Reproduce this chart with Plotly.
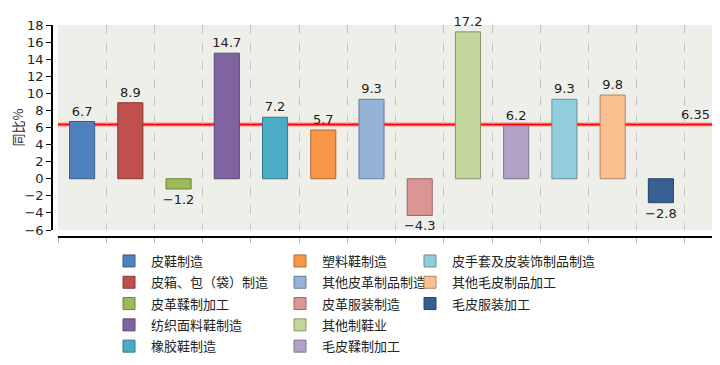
import plotly.graph_objects as go

categories = ["皮鞋制造", "皮箱、包（袋）制造", "皮革鞣制加工", "纺织面料鞋制造", "橡胶鞋制造",
              "塑料鞋制造", "其他皮革制品制造", "皮革服装制造", "其他制鞋业", "毛皮鞣制加工",
              "皮手套及皮装饰制品制造", "其他毛皮制品加工", "毛皮服装加工"]
values = [6.7, 8.9, -1.2, 14.7, 7.2, 5.7, 9.3, -4.3, 17.2, 6.2, 9.3, 9.8, -2.8]
avg_value = 6.35
y_ticks = list(range(-6, 19, 2))

colors = ["#4F81BD", "#C0504D", "#9BBB59", "#8064A2", "#4BACC6", "#F79646", "#95B3D7",
          "#D99694", "#C3D69B", "#B3A2C7", "#92CDDC", "#FAC090", "#366092"]


def darken(hex_color, f=0.7):
    h = hex_color.lstrip("#")
    r, g, b = (int(h[i:i + 2], 16) for i in (0, 2, 4))
    return "rgb(%d,%d,%d)" % (r * f, g * f, b * f)


# page body has an 8px margin; figure fills the rest of the 720x365 window
OFF = 8
W, H = 720 - OFF, 365 - OFF


def px(x):
    return (x - OFF) / W


def py(y):
    return (H - (y - OFF)) / H


legend_of = ["legend"] * 5 + ["legend2"] * 5 + ["legend3"] * 3
FONT = "DejaVu Sans, Noto Sans CJK SC, sans-serif"
CJK = "Noto Sans CJK SC, sans-serif"

fig = go.Figure()
for i, (c, v) in enumerate(zip(categories, values)):
    label = f"{v:.1f}".replace("-", "\u2212")
    fig.add_trace(go.Bar(
        x=[i], y=[v], name=c, width=0.52,
        marker=dict(color=colors[i], line=dict(color=darken(colors[i]), width=1)),
        text=[label], textposition="outside", cliponaxis=False, constraintext="none",
        textfont=dict(size=13, color="#222", family=FONT),
        legend=legend_of[i], legendgroup=c,
    ))

# average line (halo + line)
fig.add_shape(type="line", xref="x domain", x0=0, x1=1, yref="y", y0=avg_value, y1=avg_value,
              line=dict(color="rgba(255,0,0,0.2)", width=5), layer="below")
fig.add_shape(type="line", xref="x domain", x0=0, x1=1, yref="y", y0=avg_value, y1=avg_value,
              line=dict(color="#FF0000", width=2), layer="below")
fig.add_annotation(xref="x domain", x=1, xanchor="right", yref="y", y=avg_value, yanchor="bottom",
                   text=f"{avg_value:.2f}", showarrow=False, yshift=1,
                   font=dict(size=13, color="#222", family=FONT))

fig.update_layout(
    width=W, height=H, autosize=False,
    margin=dict(l=0, r=0, t=0, b=0, autoexpand=False),
    paper_bgcolor="white", plot_bgcolor="#EFEFE9",
    barmode="overlay",
    font=dict(family=FONT, size=13, color="#222"),
    xaxis=dict(
        domain=[px(58), px(712)], anchor="free", position=py(237),
        range=[-0.5, 13.06],
        tickvals=[i - 0.5 for i in range(len(categories) + 1)],
        showticklabels=False, ticks="outside", ticklen=5, tickcolor="#BBBBBB",
        showgrid=True, gridcolor="#C4C4C4", griddash="dash", gridwidth=1,
        showline=True, linecolor="black", linewidth=1.5, zeroline=False,
        automargin=False,
    ),
    yaxis=dict(
        domain=[py(230), py(25)], anchor="free", position=px(52),
        range=[-6, 18], tickvals=y_ticks,
        ticks="outside", ticklen=5, tickcolor="black",
        tickfont=dict(size=13, color="#222", family=FONT),
        showline=True, linecolor="black", linewidth=1.5,
        showgrid=False, zeroline=False, automargin=False,
        title=dict(text="同比%", font=dict(size=13, family=CJK, color="#222"), standoff=5),
    ),
    showlegend=True,
)

leg_common = dict(orientation="v", xanchor="left", yanchor="top", bgcolor="rgba(0,0,0,0)",
                  font=dict(size=13, family=CJK, color="#222"), tracegroupgap=1.4,
                  traceorder="grouped", itemwidth=34)
fig.update_layout(
    legend=dict(x=px(107), y=py(246), **leg_common),
    legend2=dict(x=px(278), y=py(246), **leg_common),
    legend3=dict(x=px(408), y=py(246), **leg_common),
)

fig.write_html("out.html")
